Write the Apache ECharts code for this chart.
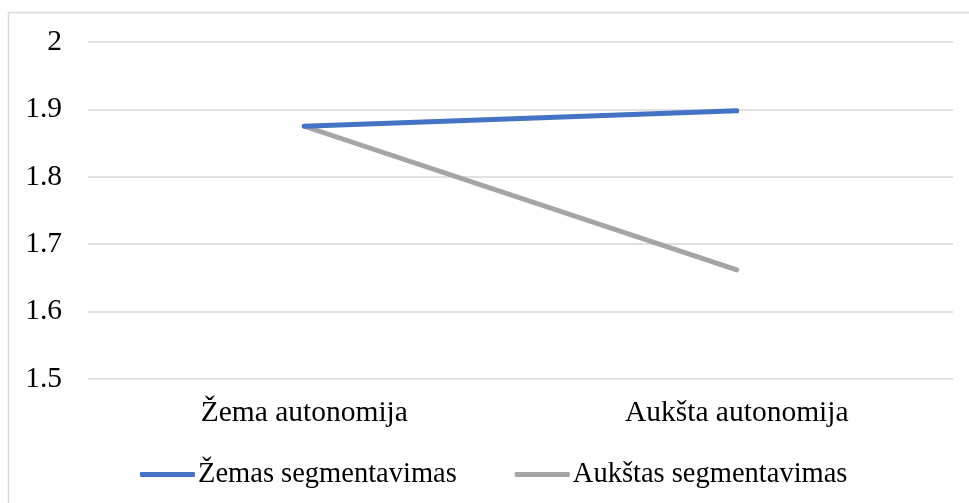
<!DOCTYPE html>
<html>
<head>
<meta charset="utf-8">
<script src="https://cdn.jsdelivr.net/npm/echarts@6/dist/echarts.min.js"></script>
<style>
  html, body { margin: 0; padding: 0; background: #fff; }
  #chart { width: 969px; height: 503px; }
</style>
</head>
<body>
<div id="chart"></div>
<script>
// Categories and series values
const categories = ['Žema autonomija', 'Aukšta autonomija'];
const seriesNames = ['Žemas segmentavimas', 'Aukštas segmentavimas'];
const zemasValues = [1.875, 1.898];
const aukstasValues = [1.875, 1.662];
const yTicks = { min: 1.5, max: 2, interval: 0.1 };

const FONT = '"Liberation Serif", "Times New Roman", serif';
const FONT_SIZE = 29.5;

const chart = echarts.init(document.getElementById('chart'), null, { renderer: 'canvas' });

chart.setOption({
  animation: false,
  backgroundColor: '#ffffff',
  graphic: [{
    type: 'rect',
    shape: { x: 8.5, y: 12.5, width: 1000, height: 600 },
    style: { fill: 'none', stroke: '#d9d9d9', lineWidth: 1.5 },
    silent: true,
    z: -10
  }],
  grid: { left: 88, right: 16, top: 42, bottom: 124, containLabel: false },
  legend: {
    left: 135,
    top: 455,
    icon: 'roundRect',
    itemWidth: 55,
    itemHeight: 5,
    itemGap: 58,
    textStyle: { fontFamily: FONT, fontSize: 28.5, color: '#000', padding: [0, 0, 0, -2] },
    data: seriesNames
  },
  xAxis: {
    type: 'category',
    data: categories,
    boundaryGap: true,
    axisLine: { show: false },
    axisTick: { show: false },
    axisLabel: { fontFamily: FONT, fontSize: FONT_SIZE, color: '#000', margin: 19 }
  },
  yAxis: {
    type: 'value',
    min: yTicks.min,
    max: yTicks.max,
    interval: yTicks.interval,
    axisLine: { show: false },
    axisTick: { show: false },
    splitLine: { lineStyle: { color: '#d9d9d9', width: 1.5 } },
    axisLabel: {
      fontFamily: FONT, fontSize: FONT_SIZE, color: '#000', margin: 26,
      formatter: v => (Math.round(v * 10) / 10).toString()
    }
  },
  series: [
    {
      name: seriesNames[0],
      type: 'line',
      data: zemasValues,
      symbol: 'none',
      color: '#4472C4',
      lineStyle: { color: '#4472C4', width: 5, cap: 'round', join: 'round' },
      z: 3
    },
    {
      name: seriesNames[1],
      type: 'line',
      data: aukstasValues,
      symbol: 'none',
      color: '#A5A5A5',
      lineStyle: { color: '#A5A5A5', width: 5, cap: 'round', join: 'round' },
      z: 2
    }
  ]
});
</script>
</body>
</html>
